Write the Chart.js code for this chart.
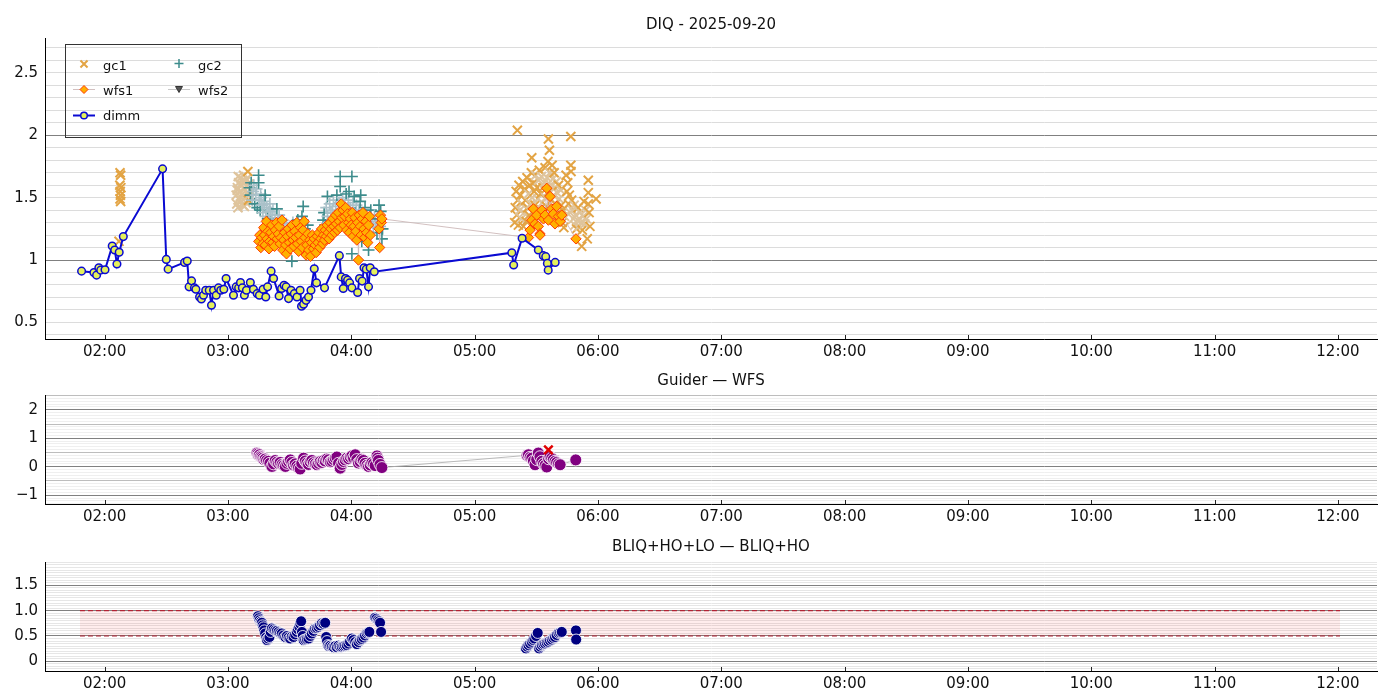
<!DOCTYPE html>
<html><head><meta charset="utf-8">
<script src="https://cdn.jsdelivr.net/npm/chart.js@4.4.1/dist/chart.umd.min.js"></script>
<style>
html,body{margin:0;padding:0;background:#fff;width:1400px;height:700px;overflow:hidden;}
canvas{position:absolute;left:0;}
</style></head><body>
<canvas id="c1" width="1400" height="365" style="top:0px"></canvas>
<canvas id="c2" width="1400" height="165" style="top:365px"></canvas>
<canvas id="c3" width="1400" height="170" style="top:530px"></canvas>
<script>
// ---------- text ----------
const TITLES = ['DIQ - 2025-09-20', 'Guider \u2014 WFS', 'BLIQ+HO+LO \u2014 BLIQ+HO'];
const SERIES_NAMES = ['gc1', 'gc2', 'wfs1', 'wfs2', 'dimm'];
// ---------- x axis (minutes after 00:00 UT) ----------
const X_MIN = 91, X_MAX = 739;
const X_TICKS = [120,180,240,300,360,420,480,540,600,660,720];
// ---------- y tick labels ----------
const Y1_LABELS = [0.5,1,1.5,2,2.5];
const Y2_LABELS = [-1,0,1,2];
const Y3_LABELS = [0,0.5,1,1.5];
// ---------- panel 1: DIQ ----------
const dimmT = [108.8,114.8,116.1,117.2,118.1,120.2,123.7,124.9,126.0,127.1,129.1,148.2,150.0,150.9,158.9,160.2,161.1,162.3,163.7,164.4,166.2,167.1,168.1,169.2,170.9,172.0,173.0,174.3,175.4,176.5,178.0,179.1,182.7,184.0,185.2,186.1,187.0,188.0,189.0,190.9,192.4,194.2,195.3,197.1,198.4,199.3,201.0,202.2,204.9,206.1,207.3,208.3,209.5,210.7,212.3,213.6,215.1,215.8,216.8,218.0,219.2,220.4,222.0,223.1,227.0,234.2,235.1,236.1,237.2,238.2,239.2,240.3,243.1,244.0,245.3,246.2,247.3,248.4,249.2,251.2,318.1,319.0,323.1,331.0,333.4,334.6,335.4,335.8,339.2];
const dimmV = [0.911,0.90,0.879,0.938,0.919,0.922,1.113,1.081,0.968,1.062,1.188,1.731,1.005,0.927,0.981,0.992,0.785,0.833,0.777,0.766,0.704,0.688,0.718,0.758,0.758,0.637,0.758,0.718,0.777,0.758,0.766,0.852,0.718,0.785,0.777,0.820,0.777,0.718,0.758,0.820,0.766,0.731,0.718,0.766,0.704,0.785,0.911,0.852,0.712,0.772,0.798,0.785,0.691,0.758,0.731,0.704,0.758,0.629,0.645,0.677,0.704,0.758,0.930,0.817,0.777,1.035,0.865,0.772,0.852,0.839,0.817,0.777,0.740,0.852,0.831,0.938,0.927,0.785,0.938,0.906,1.059,0.960,1.175,1.081,1.035,1.027,0.973,0.919,0.981];

const gc1T = [127.0,127.4,127.5,127.5,127.6,127.7,127.8,127.8,127.9,
 184.0,184.3,184.5,184.6,184.9,185.0,185.2,185.5,185.8,186.0,186.1,186.4,186.7,187.0,187.2,187.3,187.6,187.9,188.0,188.2,188.5,188.8,189.0,189.1,189.4,189.7,190.0,190.2,190.3,190.6,
 319.5,319.8,320.2,320.5,320.8,321.0,321.3,321.6,322.0,322.3,322.7,323.0,323.4,323.7,324.1,324.4,324.8,325.1,325.5,325.8,326.2,326.5,326.9,327.2,327.6,327.8,328.0,328.3,328.7,329.0,329.4,329.7,330.1,330.4,330.8,331.1,331.5,331.8,332.2,332.5,332.9,333.2,333.6,333.9,334.3,334.6,335.0,335.3,335.7,335.9,336.1,336.4,336.6,337.0,337.3,337.7,338.0,338.4,338.7,339.1,339.4,339.8,340.1,340.5,340.8,341.2,341.5,341.9,342.2,342.6,343.0,343.4,343.8,344.5,344.9,345.3,345.7,346.1,346.5,346.8,346.8,346.9,347.2,347.6,348.0,348.4,348.8,349.2,349.6,350.0,350.4,350.8,351.2,351.6,352.1,352.4,352.8,353.2,353.6,354.0,354.4,354.8,355.3,355.3,355.3,355.7,356.1,359.1];
const gc1V = [1.15,1.60,1.70,1.49,1.55,1.52,1.68,1.47,1.58,
 1.52,1.45,1.56,1.58,1.42,1.67,1.62,1.49,1.55,1.51,1.66,1.47,1.60,1.53,1.64,1.44,1.68,1.57,1.43,1.50,1.63,1.46,1.65,1.59,1.54,1.71,1.48,1.52,1.61,1.56,
 1.30,1.42,1.55,1.36,2.04,1.48,1.28,1.60,1.40,1.52,1.33,1.45,1.63,1.27,1.38,1.57,1.48,1.31,1.66,1.42,1.53,1.36,1.60,1.45,1.70,1.82,1.50,1.38,1.62,1.55,1.44,1.68,1.35,1.58,1.49,1.64,1.72,1.41,1.53,1.67,1.46,1.58,1.38,1.62,1.74,1.50,1.43,1.66,1.79,1.97,1.55,1.88,1.70,1.60,1.48,1.76,1.65,1.52,1.70,1.58,1.45,1.63,1.54,1.38,1.60,1.49,1.33,1.56,1.44,1.30,1.40,1.26,1.35,1.68,1.55,1.62,1.45,1.52,1.38,1.99,1.76,1.71,1.48,1.40,1.33,1.44,1.28,1.36,1.25,1.32,1.42,1.27,1.38,1.30,1.11,1.24,1.35,1.47,1.29,1.40,1.33,1.17,1.64,1.54,1.45,1.38,1.27,1.49];

const gc2T = [190.5,191.0,191.3,191.8,192.2,192.6,193.0,193.5,193.9,194.3,194.9,194.9,195.2,195.7,195.9,196.1,196.6,197.0,197.5,197.9,198.1,198.4,198.9,199.4,199.9,200.4,200.6,200.9,201.4,201.9,202.4,202.9,203.5,203.8,204.3,204.9,205.5,206.0,206.6,207.2,207.8,208.4,209.0,209.6,210.2,210.8,211.1,211.6,212.2,212.8,213.4,214.0,214.6,215.2,216.0,216.6,217.4,218.0,218.8,
 226.3,226.8,227.3,227.8,228.4,228.4,229.0,229.5,230.1,230.9,231.3,231.8,232.4,233.0,233.5,234.1,234.6,234.6,235.2,235.8,236.3,236.9,237.5,238.0,238.6,238.9,239.5,240.0,240.3,240.3,240.8,241.4,242.0,242.5,243.1,243.7,244.3,244.6,245.1,245.5,246.1,246.7,247.3,247.9,248.4,248.9,249.5,250.1,250.7,251.3,251.9,252.5,253.0,253.5,254.0,254.3,254.9,255.2];
const gc2V = [1.58,1.52,1.62,1.48,1.55,1.60,1.45,1.52,1.57,1.42,1.68,1.62,1.48,1.40,1.53,1.50,1.44,1.38,1.47,1.45,1.52,1.35,1.42,1.33,1.39,1.45,1.39,1.30,1.36,1.41,1.28,1.34,1.25,1.41,1.31,1.36,1.27,1.22,1.32,1.26,1.20,1.29,1.24,1.18,1.27,1.22,0.99,1.30,1.24,1.19,1.26,1.32,1.21,1.28,1.35,1.43,1.25,1.20,1.28,
 1.32,1.38,1.28,1.42,1.51,1.35,1.30,1.45,1.38,1.40,1.48,1.33,1.43,1.52,1.37,1.46,1.59,1.67,1.41,1.50,1.35,1.44,1.53,1.39,1.48,1.55,1.42,1.36,1.67,1.05,1.46,1.51,1.38,1.44,1.33,1.40,1.47,1.52,1.15,1.36,1.30,1.42,1.37,1.28,1.08,1.34,1.40,1.31,1.26,1.36,1.29,1.22,1.33,1.44,1.27,1.39,1.17,1.25];

const wfs1T = [195.0,195.5,196.0,196.5,197.0,197.4,197.8,198.2,198.7,199.1,199.5,200.0,200.4,200.9,201.3,201.8,202.2,202.7,203.1,203.6,204.0,204.5,204.9,205.4,205.8,206.3,206.7,207.2,207.6,208.1,208.5,209.0,209.4,209.9,210.3,210.8,211.2,211.7,212.1,212.6,213.0,213.5,213.9,214.4,214.8,215.3,215.7,216.2,216.6,217.1,217.5,218.0,218.4,218.9,219.3,219.8,220.2,220.7,221.1,221.6,222.0,222.5,222.9,223.4,223.8,224.3,224.7,225.2,225.6,226.1,226.5,227.0,227.4,227.9,228.3,228.8,229.2,229.7,230.1,230.6,231.0,231.5,231.9,232.4,232.8,233.3,233.7,234.2,234.6,235.1,235.5,236.0,236.4,236.9,237.3,237.8,238.2,238.7,239.1,239.6,240.0,240.5,240.9,241.4,241.8,242.3,242.7,243.2,243.5,243.9,244.4,244.8,245.3,245.7,246.2,246.6,247.1,247.5,248.0,248.4,248.9,249.3,253.5,253.8,254.2,254.6,254.9,
 326.2,327.0,327.8,328.6,329.4,330.2,331.0,331.8,331.8,332.7,333.5,334.3,335.1,335.9,336.7,337.5,338.3,339.1,339.9,340.8,341.6,342.4,349.3];
const wfs1V = [1.15,1.20,1.10,1.18,1.13,1.26,1.20,1.12,1.31,1.17,1.23,1.09,1.15,1.22,1.28,1.14,1.19,1.11,1.24,1.30,1.17,1.21,1.27,1.13,1.18,1.32,1.08,1.16,1.22,1.12,1.05,1.19,1.25,1.14,1.09,1.21,1.28,1.16,1.11,1.23,1.18,1.30,1.13,1.07,1.20,1.26,1.15,1.10,1.24,1.31,1.18,1.04,1.12,1.21,1.08,1.16,1.03,1.14,1.20,1.09,1.17,1.12,1.06,1.19,1.14,1.22,1.10,1.17,1.25,1.13,1.20,1.16,1.24,1.19,1.28,1.22,1.17,1.30,1.25,1.20,1.33,1.27,1.22,1.36,1.29,1.24,1.38,1.31,1.26,1.45,1.34,1.40,1.28,1.35,1.42,1.24,1.37,1.30,1.22,1.33,1.28,1.38,1.19,1.27,1.34,1.23,1.16,1.30,1.00,1.36,1.27,1.20,1.33,1.38,1.25,1.18,1.31,1.22,1.14,1.28,1.35,1.20,1.25,1.10,1.36,1.30,1.33,
 1.18,1.24,1.32,1.41,1.29,1.36,1.27,1.21,1.20,1.40,1.33,1.36,1.575,1.32,1.51,1.41,1.37,1.29,1.43,1.35,1.31,1.36,1.17];

const wfs2T = [];
const wfs2V = [];

// ---------- panel 2: Guider - WFS ----------
const gwT = [194.1,194.6,195.0,195.4,195.9,196.5,197.0,197.5,198.1,198.8,199.7,200.4,201.4,202.2,203.0,203.8,204.6,205.4,206.3,207.1,207.9,208.7,209.5,210.3,211.1,211.9,212.7,213.5,214.3,215.1,215.9,216.8,217.6,218.4,219.2,220.0,220.8,221.6,222.5,223.3,224.1,224.9,225.7,226.5,227.3,228.1,228.9,229.8,230.6,231.4,232.2,233.0,233.8,234.6,235.4,236.2,237.0,237.8,238.7,239.5,240.3,241.1,241.9,242.7,243.5,244.3,245.1,245.9,246.7,247.6,248.4,249.2,250.0,250.8,251.6,252.5,252.8,253.2,254.0,254.9,
 325.5,326.2,327.0,327.8,328.6,329.4,330.2,331.0,331.8,332.7,333.5,334.3,335.1,336.0,336.7,337.5,338.3,339.1,339.9,340.8,341.6,349.2];
const gwV = [0.48,0.45,0.40,0.42,0.36,0.34,0.30,0.25,0.27,0.22,0.19,0.12,0.01,0.10,0.22,0.16,0.12,0.15,0.08,0.05,0.01,0.12,0.18,0.24,0.15,0.06,0.10,0.02,-0.04,-0.08,0.12,0.30,0.20,0.13,0.08,0.17,0.22,0.14,0.10,0.07,0.12,0.18,0.15,0.22,0.20,0.27,0.24,0.17,0.19,0.25,0.30,0.34,0.12,-0.05,0.08,0.18,0.24,0.30,0.28,0.34,0.38,0.31,0.42,0.25,0.13,0.18,0.26,0.22,0.12,0.05,0.01,0.06,0.14,0.10,0.04,0.38,0.30,0.22,0.08,-0.03,
 0.40,0.42,0.33,0.30,0.20,0.07,0.25,0.48,0.35,0.19,0.10,0.05,-0.01,0.28,0.35,0.30,0.25,0.19,0.15,0.10,0.07,0.24];
const gwFlagT = [335.9];
const gwFlagV = [0.59];

// ---------- panel 3: BLIQ ----------
const bliqT = [194.6,195.0,195.4,196.0,196.5,196.9,197.3,197.7,198.1,198.6,199.0,199.6,200.2,200.8,201.4,202.2,203.0,203.8,204.6,205.4,206.2,207.0,207.9,208.7,209.5,210.3,211.1,211.9,212.7,213.5,214.1,214.7,215.2,215.6,216.0,216.4,216.8,217.6,218.4,219.2,220.0,220.8,221.6,222.4,223.2,224.0,224.8,225.7,226.5,227.3,227.8,228.2,228.6,229.2,229.8,230.6,231.4,232.2,233.0,233.8,234.6,235.4,236.2,237.0,237.8,238.6,239.4,240.3,241.0,241.9,242.7,243.5,244.3,245.1,245.9,246.7,247.5,248.2,248.8,251.6,252.2,252.9,253.5,254.0,254.5,
 325.0,325.6,326.2,327.0,327.8,328.5,329.1,329.9,330.7,331.4,332.0,332.7,333.5,334.3,335.1,335.9,336.7,337.6,338.3,339.1,339.9,340.8,341.6,342.4,349.3,349.4];
const bliqV = [0.89,0.85,0.81,0.78,0.76,0.71,0.67,0.61,0.55,0.47,0.42,0.45,0.48,0.58,0.65,0.63,0.61,0.60,0.58,0.56,0.55,0.51,0.48,0.50,0.47,0.45,0.49,0.48,0.53,0.58,0.63,0.68,0.74,0.79,0.58,0.50,0.42,0.43,0.44,0.45,0.50,0.55,0.60,0.65,0.66,0.68,0.71,0.75,0.74,0.76,0.48,0.40,0.32,0.30,0.31,0.29,0.28,0.30,0.28,0.31,0.29,0.29,0.30,0.31,0.32,0.35,0.39,0.45,0.42,0.38,0.34,0.38,0.42,0.44,0.47,0.51,0.55,0.57,0.58,0.86,0.84,0.81,0.79,0.76,0.58,
 0.255,0.29,0.32,0.35,0.385,0.42,0.45,0.50,0.56,0.255,0.29,0.32,0.34,0.35,0.37,0.385,0.41,0.43,0.46,0.48,0.52,0.56,0.57,0.58,0.61,0.43];
const BAND_T = [108, 721];
const BAND_LO = 0.5, BAND_HI = 1.0;

// ---------- helpers ----------
const FAM = "'DejaVu Sans', sans-serif";
Chart.defaults.font.family = FAM;
Chart.defaults.color = '#111';

function zip(T, V){ const n = Math.min(T.length, V.length); const out = []; for (let i=0;i<n;i++) out.push({x:T[i], y:V[i]}); return out; }
function hhmm(m){ const h = Math.floor(m/60), mm = Math.round(m - h*60); return String(h).padStart(2,'0') + ':' + String(mm).padStart(2,'0'); }
function stepTicks(min, max, step){ const out=[]; const s=Math.ceil(min/step-1e-9), e=Math.floor(max/step+1e-9); for(let i=s;i<=e;i++) out.push(+(i*step).toFixed(4)); return out; }
function isMult(v, m){ return Math.abs(v/m - Math.round(v/m)) < 1e-6; }
// colour by local crowding (crowded markers look paler, as in the reference)
function crowdColors(T, V, dt, dv, minN, solid, pale){
  const n = Math.min(T.length, V.length); const out = [];
  for (let i=0;i<n;i++){ let c=0; for (let j=0;j<n;j++){ if (j!==i){ const a=(T[j]-T[i])/dt, b=(V[j]-V[i])/dv; if (a*a+b*b<=1) c++; } } out.push(c>=minN ? pale : solid); }
  return out;
}

function xAxis(h){ return {
  type:'linear', position:'bottom', min:X_MIN, max:X_MAX,
  afterBuildTicks(s){ s.ticks = X_TICKS.map(v=>({value:v})); },
  afterFit(s){ s.height = h; },
  grid:{display:false, drawTicks:false},
  border:{display:true, color:'#000', width:1},
  ticks:{autoSkip:false, maxRotation:0, minRotation:0, padding:4, color:'#111', font:{size:15, family:FAM}, callback:v=>hhmm(v)}
}; }
function yAxis(min, max, step, labels, fmt, gridColor){ return {
  type:'linear', position:'left', min:min, max:max,
  afterBuildTicks(s){ s.ticks = stepTicks(min,max,step).map(v=>({value:v})); },
  afterFit(s){ s.width = 45; },
  grid:{display:true, drawTicks:false, lineWidth:1, color: c => (c.tick ? gridColor(c.tick.value) : 'rgba(0,0,0,0)')},
  border:{display:true, color:'#000', width:1},
  ticks:{autoSkip:false, padding:7, color:'#111', font:{size:15, family:FAM}, callback: v => (labels.some(l=>Math.abs(l-v)<1e-6) ? fmt(v) : '')}
}; }

const decor = {
  id:'decor',
  afterDraw(chart, args, opts){
    const ctx = chart.ctx, a = chart.chartArea, x = chart.scales.x;
    ctx.save();
    ctx.fillStyle = '#111'; ctx.font = "15px " + FAM; ctx.textAlign = 'center'; ctx.textBaseline = 'middle';
    ctx.fillText(opts.title, (a.left + a.right)/2, opts.titleY);
    ctx.strokeStyle = '#222'; ctx.lineWidth = 1;
    x.ticks.forEach(t => { const px = Math.round(x.getPixelForValue(t.value)) + 0.5; ctx.beginPath(); ctx.moveTo(px, a.bottom); ctx.lineTo(px, a.bottom - 4); ctx.stroke(); });
    ctx.restore();
  }
};

const C = {
  gc1:'#e3a444', gc1pale:'#dfc49c',
  gc2:'#3d8c8c', gc2pale:'#aac1c9',
  wfsFill:'#ffb000', wfsEdge:'#ff3a00', wfsLine:'rgba(205,185,185,0.9)',
  wfs2Fill:'#555555', wfs2Line:'#c8c8c8',
  dimm:'#0a0ad2', dimmFill:'#e4f05c'
};

function mark(ctx, style, r, x, y, fill, stroke, bw, rot){
  ctx.save(); ctx.fillStyle = fill; ctx.strokeStyle = stroke; ctx.lineWidth = bw;
  Chart.helpers.drawPoint(ctx, {pointStyle:style, radius:r, rotation:rot||0, borderWidth:bw}, x, y);
  ctx.restore();
}
const legendPlugin = {
  id:'diqLegend',
  afterDraw(chart){
    const ctx = chart.ctx;
    ctx.save();
    ctx.strokeStyle = '#333'; ctx.lineWidth = 1; ctx.strokeRect(65.5, 44.5, 176, 93);
    const line = (x0,x1,y,col,w) => { ctx.strokeStyle=col; ctx.lineWidth=w; ctx.beginPath(); ctx.moveTo(x0,y); ctx.lineTo(x1,y); ctx.stroke(); };
    mark(ctx, 'crossRot', 5, 84, 64, C.gc1, C.gc1, 2);
    mark(ctx, 'cross', 4.5, 179, 63.5, C.gc2, C.gc2, 1.5);
    line(73, 95, 89.5, C.wfsLine, 1);
    mark(ctx, 'rectRot', 4, 84, 89.5, C.wfsFill, C.wfsEdge, 1);
    line(168, 190, 89.5, C.wfs2Line, 1);
    mark(ctx, 'triangle', 4, 179, 88.5, C.wfs2Fill, '#333', 1, 180);
    line(73, 95, 115.5, C.dimm, 2);
    mark(ctx, 'circle', 3.3, 84, 115.5, C.dimmFill, C.dimm, 1.5);
    ctx.fillStyle = '#111'; ctx.font = "13px " + FAM; ctx.textAlign = 'left'; ctx.textBaseline = 'middle';
    ctx.fillText(SERIES_NAMES[0], 103, 66.5);
    ctx.fillText(SERIES_NAMES[1], 198, 66.5);
    ctx.fillText(SERIES_NAMES[2], 103, 91.5);
    ctx.fillText(SERIES_NAMES[3], 198, 91.5);
    ctx.fillText(SERIES_NAMES[4], 103, 117);
    ctx.restore();
  }
};

const base = (padTop, padRight) => ({
  responsive:false, animation:false, events:[],
  layout:{padding:{top:padTop, right:padRight, left:0, bottom:0}},
});

// ---------- chart 1 ----------
new Chart(document.getElementById('c1'), {
  type:'scatter',
  data:{datasets:[
    {label:SERIES_NAMES[4], data:zip(dimmT,dimmV), showLine:true, borderColor:C.dimm, borderWidth:2, pointStyle:'circle', pointRadius:3.8, pointBackgroundColor:C.dimmFill, pointBorderColor:C.dimm, pointBorderWidth:1.5, order:0},
    {label:SERIES_NAMES[3], data:zip(wfs2T,wfs2V), showLine:true, borderColor:C.wfs2Line, borderWidth:1, pointStyle:'triangle', rotation:180, pointRadius:5, pointBackgroundColor:C.wfs2Fill, pointBorderColor:'#333', order:1},
    {label:SERIES_NAMES[2], data:zip(wfs1T,wfs1V), showLine:true, borderColor:C.wfsLine, borderWidth:1, pointStyle:'rectRot', pointRadius:5.2, pointBackgroundColor:C.wfsFill, pointBorderColor:C.wfsEdge, pointBorderWidth:1, order:2},
    {label:SERIES_NAMES[1], data:zip(gc2T,gc2V), showLine:false, pointStyle:'cross', pointRadius:6, pointBorderWidth:1.6, pointBorderColor:crowdColors(gc2T,gc2V,3.4,0.056,4,C.gc2,C.gc2pale), order:3},
    {label:SERIES_NAMES[0], data:zip(gc1T,gc1V), showLine:false, pointStyle:'crossRot', pointRadius:6.4, pointBorderWidth:2, pointBorderColor:crowdColors(gc1T,gc1V,3.4,0.056,4,C.gc1,C.gc1pale), order:4}
  ]},
  options:Object.assign(base(38,23), {
    plugins:{legend:{display:false}, tooltip:{enabled:false}, decor:{title:TITLES[0], titleY:25}},
    scales:{
      x:xAxis(26),
      y:yAxis(0.367, 2.78, 0.1, Y1_LABELS, v=>String(+v.toFixed(1)), v=> isMult(v,1) ? '#808080' : '#dcdcdc')
    }
  }),
  plugins:[decor, legendPlugin]
});

// ---------- chart 2 ----------
new Chart(document.getElementById('c2'), {
  type:'scatter',
  data:{datasets:[
    {label:'flag', data:zip(gwFlagT,gwFlagV), pointStyle:'crossRot', pointRadius:6, pointBorderWidth:2.5, pointBorderColor:'#e00000', order:0},
    {label:'guider-wfs', data:zip(gwT,gwV), showLine:true, borderColor:'rgba(175,175,175,0.85)', borderWidth:1, pointStyle:'circle', pointRadius:6, pointBackgroundColor:'#800080', pointBorderColor:'rgba(255,255,255,0.85)', pointBorderWidth:1, order:1}
  ]},
  options:Object.assign(base(30,23), {
    plugins:{legend:{display:false}, tooltip:{enabled:false}, decor:{title:TITLES[1], titleY:16}},
    scales:{
      x:xAxis(26),
      y:yAxis(-1.31, 2.52, 0.1, Y2_LABELS, v=> v<0 ? '\u2212'+Math.abs(v) : String(v), v=> isMult(v,1) ? '#808080' : (isMult(v,0.5) ? '#bdbdbd' : '#efefef'))
    }
  }),
  plugins:[decor]
});

// ---------- chart 3 ----------
new Chart(document.getElementById('c3'), {
  type:'scatter',
  data:{datasets:[
    {label:'bliq', data:zip(bliqT,bliqV), pointStyle:'circle', pointRadius:5.5, pointBackgroundColor:'#000080', pointBorderColor:'rgba(255,255,255,0.85)', pointBorderWidth:1, order:0},
    {type:'line', label:'lo', data:zip(BAND_T,[BAND_LO,BAND_LO]), borderColor:'#b22234', borderWidth:1.2, borderDash:[5,3], pointRadius:0, fill:false, order:2},
    {type:'line', label:'hi', data:zip(BAND_T,[BAND_HI,BAND_HI]), borderColor:'#b22234', borderWidth:1.2, borderDash:[5,3], pointRadius:0, fill:{value:BAND_LO}, backgroundColor:'rgba(255,0,0,0.07)', order:2}
  ]},
  options:Object.assign(base(32,23), {
    plugins:{legend:{display:false}, tooltip:{enabled:false}, decor:{title:TITLES[2], titleY:17}},
    scales:{
      x:xAxis(29),
      y:yAxis(-0.19, 1.958, 0.05, Y3_LABELS, v=> Math.abs(v)<1e-9 ? '0' : v.toFixed(1), v=> isMult(v,0.5) ? '#808080' : '#e6e6e6')
    }
  }),
  plugins:[decor]
});
</script>
</body></html>
